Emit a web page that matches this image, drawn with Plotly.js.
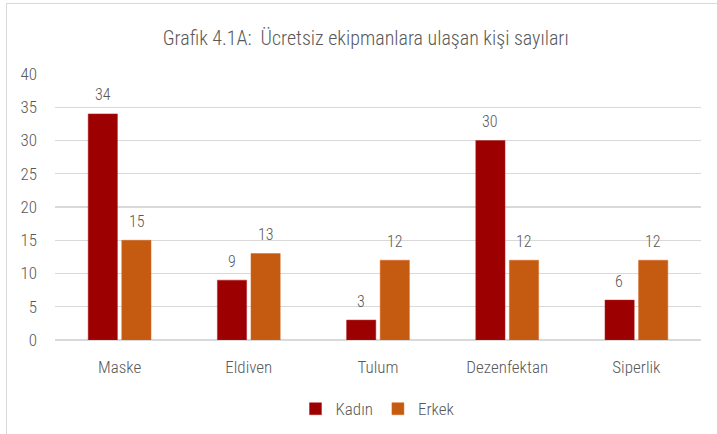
<!DOCTYPE html>
<html>
<head>
<meta charset="utf-8">
<script src="https://cdn.plot.ly/plotly-3.0.1.min.js"></script>
<style>
  html, body { margin: 0; padding: 0; background: #fff; }
  #wrap { position: relative; width: 717px; height: 434px; overflow: hidden; }
  #frame { position: absolute; left: 6px; top: 3px; width: 800px; height: 500px; border: 1px solid #d9d9d9; box-sizing: border-box; }
  #chart { position: absolute; left: 0; top: 0; width: 717px; height: 434px; }
</style>
</head>
<body>
<div id="wrap">
  <div id="frame"></div>
  <div id="chart"></div>
</div>
<script>
const categories = ["Maske", "Eldiven", "Tulum", "Dezenfektan", "Siperlik"];
const kadin = [34, 9, 3, 30, 6];
const erkek = [15, 13, 12, 12, 12];
const seriesNames = ["Kadın", "Erkek"];
const yTicks = [0, 5, 10, 15, 20, 25, 30, 35, 40];

const FONT = '"Roboto Condensed", "DejaVu Sans Condensed", Roboto, sans-serif';
const TXT = '#595959';
const W = 300;

const traces = [
  {
    type: 'bar', name: seriesNames[0], x: categories, y: kadin,
    marker: { color: '#9C0000', line: { color: '#B22222', width: 0.5 } }
  },
  {
    type: 'bar', name: seriesNames[1], x: categories, y: erkek,
    marker: { color: '#C55A11', line: { color: '#D46A24', width: 0.5 } }
  }
];

// data labels placed from the data values
const annotations = [];
const offsets = [-0.5, 0.5];
[kadin, erkek].forEach((vals, s) => {
  vals.forEach((v, i) => {
    annotations.push({
      x: i, y: v, xref: 'x', yref: 'y', text: String(v), showarrow: false,
      xshift: offsets[s] * 34, yshift: 19, yanchor: 'middle', xanchor: 'center',
      font: { family: FONT, size: 16, color: TXT, weight: W }
    });
  });
});

const layout = {
  width: 717, height: 434,
  paper_bgcolor: 'rgba(0,0,0,0)', plot_bgcolor: 'rgba(0,0,0,0)',
  margin: { l: 55, r: 16, t: 74, b: 94, autoexpand: false },
  font: { family: FONT, color: TXT, size: 16, weight: W },
  title: { text: 'Grafik 4.1A:  Ücretsiz ekipmanlara ulaşan kişi sayıları', font: { family: FONT, size: 20, color: TXT, weight: W }, x: 0.51, xanchor: 'center', y: 0.912, yanchor: 'middle' },
  barmode: 'group', bargap: 0.48, bargroupgap: 0.13,
  xaxis: { tickfont: { family: FONT, size: 17, color: TXT, weight: W }, showline: false, ticks: '', ticklabelstandoff: 15, fixedrange: true },
  yaxis: { range: [0, 40], tickvals: yTicks, ticktext: yTicks.map(String), showgrid: true, gridcolor: '#D9D9D9', gridwidth: 1.3,
           zeroline: true, zerolinecolor: '#D9D9D9', zerolinewidth: 1.3,
           tickfont: { family: FONT, size: 17, color: TXT, weight: W }, ticklabelstandoff: 17, showline: false, ticks: '', fixedrange: true },
  annotations: annotations,
  showlegend: true,
  legend: { orientation: 'h', x: 0.5, xanchor: 'center', y: -0.26, yanchor: 'middle', font: { family: FONT, size: 17, color: TXT, weight: W }, itemwidth: 30, traceorder: 'normal' }
};

Plotly.newPlot('chart', traces, layout, { displayModeBar: false, staticPlot: true });
</script>
</body>
</html>
